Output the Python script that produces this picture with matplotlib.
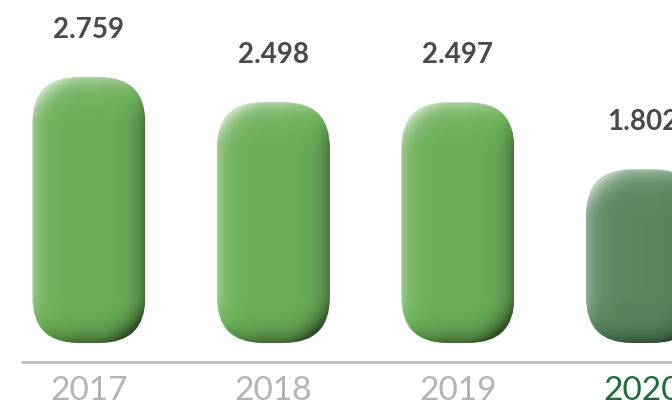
import matplotlib
matplotlib.use("Agg")
import matplotlib.pyplot as plt
from matplotlib.patches import FancyBboxPatch
import numpy as np

years = ["2017", "2018", "2019", "2020"]
values = [2.759, 2.498, 2.497, 1.802]
value_labels = ["2.759", "2.498", "2.497", "1.802"]

bar_colors = ["#6aae57", "#6aae57", "#6aae57", "#59865f"]
year_colors = ["#b3b3b3", "#b3b3b3", "#b3b3b3", "#1f6b3b"]

fig = plt.figure(figsize=(6.72, 4.09), dpi=100)
ax = fig.add_axes([0, 0, 1, 1])
ax.set_xlim(-0.482, 3.160)
ax.set_ylim(-0.685, 3.558)
ax.axis("off")

# pixels per data unit
px_x = 672 / (3.160 + 0.482)
px_y = 409 / (3.558 + 0.685)
width = 113 / px_x
radius_px = 46


def shaded(base, w_px, h_px, r):
    # bevel look: signed distance to the rounded box, lit from top-left
    base = np.array(matplotlib.colors.to_rgb(base))
    xs = np.arange(w_px) + 0.5 - w_px / 2
    ys = h_px / 2 - (np.arange(h_px) + 0.5)
    X, Y = np.meshgrid(xs, ys)
    qx = np.abs(X) - (w_px / 2 - r)
    qy = np.abs(Y) - (h_px / 2 - r)
    d = np.hypot(np.maximum(qx, 0), np.maximum(qy, 0)) \
        + np.minimum(np.maximum(qx, qy), 0) - r
    gy, gx = np.gradient(d)
    gy = -gy
    n = np.hypot(gx, gy) + 1e-9
    nx, ny = gx / n, gy / n
    lx, ly = -0.6, 0.8
    inten = nx * lx + ny * ly
    f = np.exp(np.minimum(d, 0) / 10.0)
    light = np.clip(inten, 0, 1) * f * 0.6
    dark = np.clip(-inten, 0, 1) * f * 0.55
    img = base[None, None, :] * (1 - dark[..., None])
    img = img + (1 - img) * light[..., None]
    return np.clip(img, 0, 1)


for i, (v, c) in enumerate(zip(values, bar_colors)):
    x0 = i - width / 2
    patch = FancyBboxPatch((x0, 0), width, v,
                           boxstyle=f"round,pad=0,rounding_size={radius_px / px_x}",
                           mutation_aspect=px_x / px_y,
                           facecolor="none", edgecolor="none")
    ax.add_patch(patch)
    img = shaded(c, 113, int(round(v * px_y)), radius_px)
    im = ax.imshow(img, extent=(x0, x0 + width, 0, v), origin="upper",
                   aspect="auto", interpolation="bilinear", zorder=2)
    im.set_clip_path(patch)
    ax.text(i, v + 0.49, value_labels[i], ha="center", va="center",
            fontsize=20, fontweight="bold", color="#4a4a4a", family="Lato")
    ax.text(i, -0.595, years[i], ha="center", va="baseline",
            fontsize=24, color=year_colors[i], family="Lato")

ax.plot([-0.482 + 21 / px_x, 3.160], [-0.197, -0.197], color="#bdbdbd", lw=2,
        solid_capstyle="butt")

fig.savefig("out.png", dpi=100)
